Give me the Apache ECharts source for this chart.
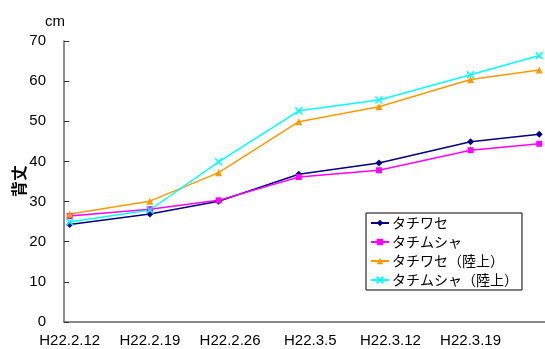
<!DOCTYPE html>
<html>
<head>
<meta charset="utf-8">
<script src="https://cdn.jsdelivr.net/npm/echarts@6/dist/echarts.min.js"></script>
<style>
  html, body { margin: 0; padding: 0; background: #fff; }
  #chart { width: 545px; height: 349px; }
</style>
</head>
<body>
<div id="chart"></div>
<script>
// Measurement dates (Heisei 22) and plant height in cm
const measuredOn = ['H22.2.12', 'H22.2.19', 'H22.2.25', 'H22.3.4', 'H22.3.11', 'H22.3.19', 'H22.3.25'];
const seriesNames = ['タチワセ', 'タチムシャ', 'タチワセ（陸上）', 'タチムシャ（陸上）'];
const tachiwase = [24.3, 26.9, 30.1, 36.8, 39.6, 44.9, 46.8];
const tachimusha = [26.4, 28.1, 30.3, 36.1, 37.8, 42.8, 44.4];
const tachiwaseRiku = [26.9, 30.1, 37.2, 49.9, 53.6, 60.4, 62.8];
const tachimushaRiku = [24.9, 27.9, 39.9, 52.6, 55.3, 61.6, 66.4];
const yTicks = [0, 10, 20, 30, 40, 50, 60, 70];

// Daily date axis, like the spreadsheet: one slot per day from 2/12
const dayCount = 42;
let days = [];
for (let i = 0; i < dayCount; i++) {
    let d = new Date(Date.UTC(2010, 1, 12 + i));
    days.push('H22.' + (d.getUTCMonth() + 1) + '.' + d.getUTCDate());
}

// Spread the measured values onto the daily axis
function onDays (values) {
    return days.map(day => {
        let idx = measuredOn.indexOf(day);
        return idx >= 0 ? values[idx] : null;
    });
}

const crossPath = 'path://M0,0L10,10M10,0L0,10';

const chart = echarts.init(document.getElementById('chart'));
let option = {
    animation: false,
    textStyle: {
        fontFamily: 'Liberation Sans, Noto Sans CJK JP, sans-serif',
        color: '#000'
    },
    title: {
        text: 'cm',
        left: 40,
        top: 9,
        textStyle: { fontSize: 15, fontWeight: 'normal', color: '#000' }
    },
    // y axis title, placed by hand
    graphic: [
        {
            type: 'text',
            x: 19,
            y: 181,
            rotation: Math.PI / 2,
            style: {
                text: '背丈',
                fontSize: 16,
                fontWeight: 'bold',
                fontFamily: 'Noto Sans CJK JP, sans-serif',
                fill: '#000',
                align: 'center',
                verticalAlign: 'middle'
            }
        }
    ],
    grid: {
        left: 64,
        right: 0,
        top: 41,
        bottom: 27,
        containLabel: false,
        outerBoundsMode: 'none'
    },
    legend: {
        orient: 'vertical',
        left: 366,
        top: 213,
        padding: [3, 4, 3, 4],
        itemGap: 5,
        itemWidth: 18,
        itemHeight: 8,
        borderColor: '#000',
        borderWidth: 1,
        backgroundColor: '#fff',
        textStyle: {
            fontSize: 14,
            color: '#000',
            padding: [0, 0, 0, -2],
            fontFamily: 'Noto Sans CJK JP, sans-serif'
        },
        data: seriesNames
    },
    xAxis: {
        type: 'category',
        data: days,
        boundaryGap: true,
        axisLine: { lineStyle: { color: '#666', width: 1.5 } },
        axisTick: {
            inside: true,
            length: 5,
            interval: (i) => i % 7 === 0,
            lineStyle: { color: '#333' }
        },
        axisLabel: {
            interval: (i) => i % 7 === 0,
            fontSize: 15,
            margin: 11,
            color: '#000'
        },
        splitLine: { show: false }
    },
    yAxis: {
        type: 'value',
        min: yTicks[0],
        max: yTicks[yTicks.length - 1],
        interval: 10,
        axisLine: { show: true, lineStyle: { color: '#666', width: 1.5 } },
        axisTick: { show: true, inside: true, length: 5, lineStyle: { color: '#333' } },
        axisLabel: { fontSize: 15, margin: 18, color: '#000' },
        splitLine: { show: false }
    },
    series: [
        {
            name: seriesNames[0],
            type: 'line',
            data: onDays(tachiwase),
            connectNulls: true,
            symbol: 'diamond',
            symbolSize: 7,
            lineStyle: { color: '#000080', width: 1.5 },
            itemStyle: { color: '#000080' }
        },
        {
            name: seriesNames[1],
            type: 'line',
            data: onDays(tachimusha),
            connectNulls: true,
            symbol: 'rect',
            symbolSize: 6,
            lineStyle: { color: '#FF00FF', width: 1.5 },
            itemStyle: { color: '#FF00FF' }
        },
        {
            name: seriesNames[2],
            type: 'line',
            data: onDays(tachiwaseRiku),
            connectNulls: true,
            symbol: 'triangle',
            symbolSize: 7,
            lineStyle: { color: '#FF9900', width: 1.5 },
            itemStyle: { color: '#FF9900' }
        },
        {
            name: seriesNames[3],
            type: 'line',
            data: onDays(tachimushaRiku),
            connectNulls: true,
            symbol: crossPath,
            symbolSize: 7,
            lineStyle: { color: '#00FFFF', width: 1.5 },
            itemStyle: { color: '#00FFFF', borderColor: '#00FFFF', borderWidth: 1.5 }
        }
    ]
};
chart.setOption(option);
</script>
</body>
</html>
